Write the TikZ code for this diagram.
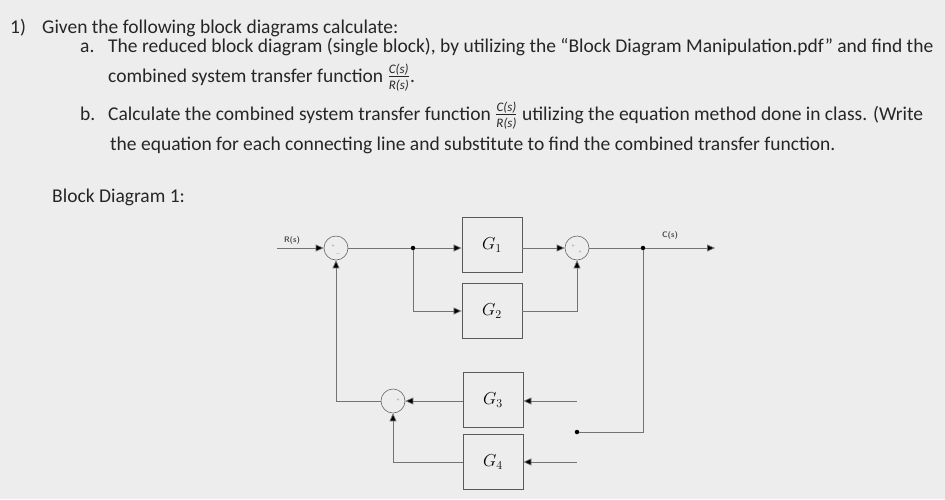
\documentclass[tikz,border=0pt]{standalone}
\usepackage{amsmath}
\usepackage{fontspec}
\setmainfont{Carlito}
\usetikzlibrary{arrows.meta}
\newcommand{\myfrac}[2]{$\frac{\text{\fontsize{13}{13}\selectfont\itshape #1}}{\text{\fontsize{13}{13}\selectfont\itshape #2}}$}
\begin{document}
\begin{tikzpicture}[x=1pt,y=-1pt,
  txt/.style={anchor=base west,inner sep=0,font=\fontsize{19.5}{21}\selectfont,text=black!85},
  blk/.style={draw=black!65,line width=0.8pt,minimum width=60pt,minimum height=55pt,font=\LARGE},
  sumj/.style={draw=black!60,circle,minimum size=24pt,inner sep=0,line width=0.6pt},
  ln/.style={draw=black!55,line width=0.7pt},
  ar/.style={ln,-{Triangle[length=8pt,width=7pt,fill=black]}},
  dot/.style={circle,fill=black,inner sep=0,minimum size=4.5pt}]
\fill[black!7] (0,0) rectangle (945,499);
\node[txt] (t1) at (10,33) {1)};
\node[txt] (t2) at (42,33) {Given the following block diagrams calculate:};
\node[txt] (ta) at (80,52) {a.};
\node[txt] (ta1) at (108,52) {The reduced block diagram (single block), by utilizing the “Block Diagram Manipulation.pdf” and find the};
\node[txt] (ta2) at (108,82) {combined system transfer function \myfrac{C(s)}{R(s)}.};
\node[txt] (tb) at (80,120) {b.};
\node[txt] (tb1) at (108,120) {Calculate the combined system transfer function \myfrac{C(s)}{R(s)} utilizing the equation method done in class. (Write};
\node[txt] (tb2) at (110,150) {the equation for each connecting line and substitute to find the combined transfer function.};
\node[txt] (tc) at (52,202) {Block Diagram 1:};
% diagram
\node[blk] (g1) at (492,245) {$G_1$};
\node[blk] (g2) at (492,311) {$G_2$};
\node[blk] (g3) at (493,400) {$G_3$};
\node[blk] (g4) at (493,462) {$G_4$};
\node[sumj] (s1) at (336,248) {};
\node[sumj] (s2) at (577,248) {};
\node[sumj] (s3) at (393,401) {};
\node[font=\tiny,text=black!50] at (333,246) {+};
\node[font=\tiny,text=black!50] at (338,254) {$-$};
\node[font=\tiny,text=black!50] at (573,246) {+};
\node[font=\tiny,text=black!50] at (580,252) {+};
\node[font=\tiny,text=black!50] at (398,400) {+};
\coordinate (rin) at (277,248);
\node[font=\footnotesize\sffamily\bfseries,text=black!70] (rl) at (292,240) {R(s)};
\node[font=\footnotesize\sffamily\bfseries,text=black!70] (cl) at (670,235) {C(s)};
\node[dot] (j1) at (413,248) {};
\node[dot] (j2) at (643,248) {};
\node[dot] (j3) at (577,432) {};
\coordinate (cout) at (715,248);
\draw[ar] (rin) -- (s1);
\draw[ln] (s1) -- (j1);
\draw[ar] (j1) -- (g1.west|-j1);
\draw[ar] (j1) |- (g2.west);
\draw[ar] (g1.east|-s2) -- (s2);
\draw[ar] (g2.east) -| (s2.south);
\draw[ln] (s2) -- (j2);
\draw[ar] (j2) -- (cout);
\draw[ln] (j2) |- (j3);
\draw[ar] (j3|-s3) -- (g3.east|-s3);
\draw[ar] (j3|-g4.east) -- (g4.east);
\draw[ar] (g3.west|-s3) -- (s3);
\draw[ar] (g4.west) -| (s3.south);
\draw[ar] (s3.west) -| (s1.south);
\end{tikzpicture}
\end{document}
